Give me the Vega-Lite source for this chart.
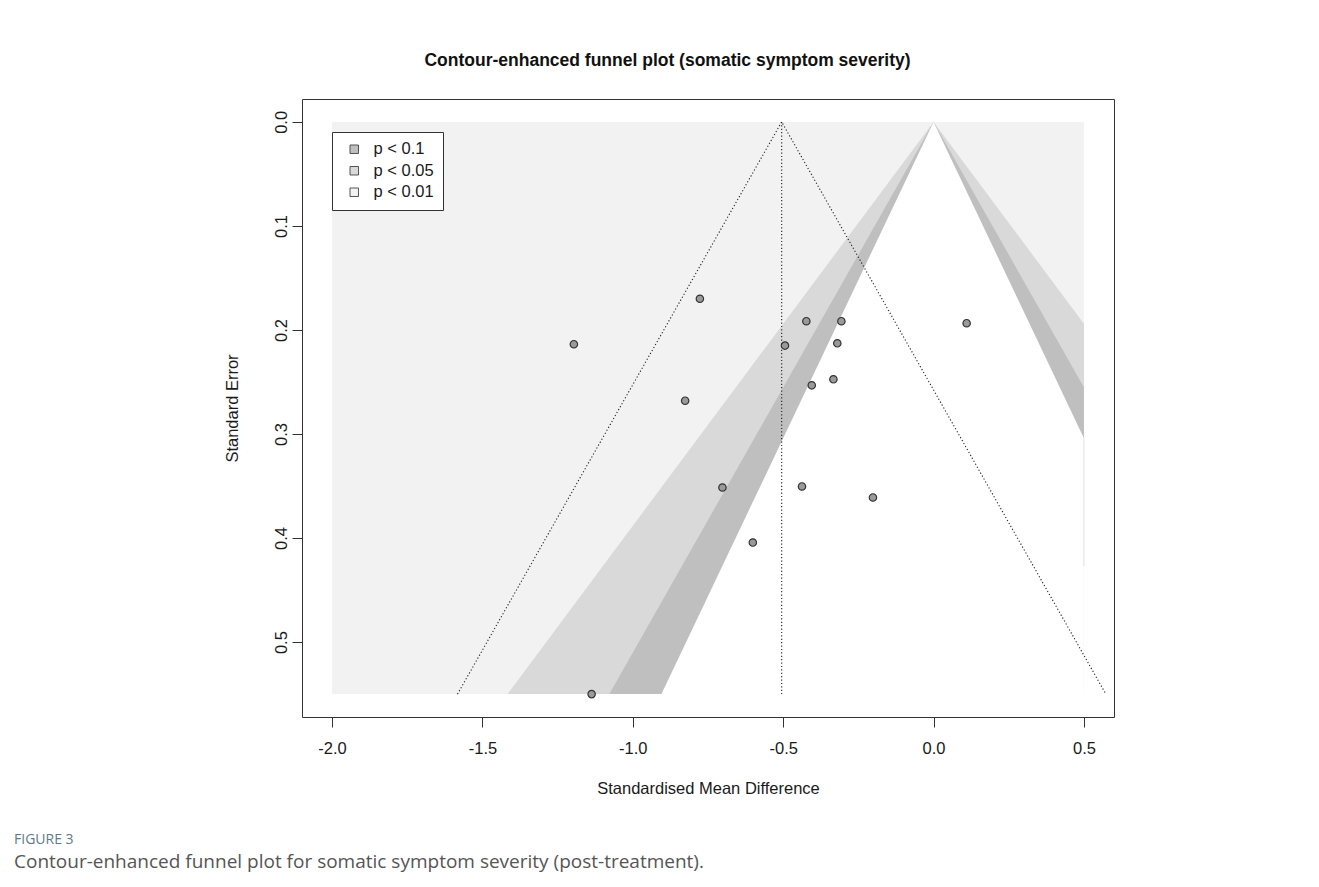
{
  "$schema": "https://vega.github.io/schema/vega-lite/v6.json",
  "width": 812,
  "height": 618,
  "autosize": {"type": "none"},
  "padding": {"left": 302, "top": 99, "right": 205, "bottom": 170},
  "background": "white",
  "config": {
    "view": {"stroke": "#333333", "strokeWidth": 1},
    "font": "Liberation Sans"
  },
  "title": {
    "text": "FIGURE 3",
    "subtitle": "Contour-enhanced funnel plot for somatic symptom severity (post-treatment).",
    "orient": "bottom",
    "anchor": "start",
    "frame": "group",
    "dx": -288,
    "offset": 36,
    "font": "Open Sans",
    "fontSize": 14,
    "fontWeight": "normal",
    "color": "#5d7a91",
    "subtitleFont": "Open Sans",
    "subtitleFontSize": 19,
    "subtitleColor": "#555555",
    "subtitlePadding": 6
  },
  "layer": [
    {
      "encoding": {
        "x": {
          "field": "x",
          "type": "quantitative",
          "scale": {"domain": [-2.1, 0.6], "nice": false, "zero": false},
          "axis": {
            "values": [-2, -1.5, -1, -0.5, 0, 0.5],
            "labelExpr": "datum.value < 0 ? '-' + format(-datum.value, '.1f') : format(datum.value, '.1f')",
            "domain": false,
            "grid": false,
            "tickSize": 10,
            "tickColor": "#333333",
            "tickWidth": 1,
            "labelFont": "Liberation Sans",
            "labelFontSize": 16.5,
            "labelColor": "#1a1a1a",
            "labelPadding": 13,
            "labelFlush": false,
            "labelOverlap": false,
            "title": "Standardised Mean Difference",
            "titleFont": "Liberation Sans",
            "titleFontSize": 16.5,
            "titleFontWeight": "normal",
            "titleColor": "#1a1a1a",
            "titlePadding": 24
          }
        },
        "y": {
          "field": "y",
          "type": "quantitative",
          "stack": null,
          "scale": {"domain": [-0.022, 0.572], "nice": false, "zero": false, "reverse": true},
          "axis": {
            "values": [0, 0.1, 0.2, 0.3, 0.4, 0.5],
            "format": ".1f",
            "domain": false,
            "grid": false,
            "tickSize": 10,
            "tickColor": "#333333",
            "tickWidth": 1,
            "labelAngle": -90,
            "labelFont": "Liberation Sans",
            "labelFontSize": 16.5,
            "labelColor": "#1a1a1a",
            "labelPadding": 3,
            "labelFlush": false,
            "labelOverlap": false,
            "title": "Standard Error",
            "titleFont": "Liberation Sans",
            "titleFontSize": 16.5,
            "titleFontWeight": "normal",
            "titleColor": "#1a1a1a",
            "titlePadding": 33
          }
        }
      },
      "layer": [
        {
          "data": {"values": [{"x": -2, "x2": 0.5, "y": 0, "y2": 0.55, "level": "p < 0.01"}]},
          "mark": {"type": "rect"},
          "encoding": {
            "x2": {"field": "x2"},
            "y2": {"field": "y2"},
            "color": {
              "field": "level", "type": "nominal",
              "scale": {"domain": ["p < 0.1", "p < 0.05", "p < 0.01"], "range": ["#bfbfbf", "#d9d9d9", "#f2f2f2"]},
              "legend": {
                "title": null, "orient": "none", "legendX": 30, "legendY": 33,
                "symbolType": "square", "symbolSize": 72, "symbolStrokeColor": "#444444", "symbolStrokeWidth": 0.9, "symbolOpacity": 1,
                "labelFont": "Liberation Sans", "labelFontSize": 16.5, "labelColor": "#1a1a1a",
                "strokeColor": "#333333", "fillColor": "white", "padding": 9, "rowPadding": 4.5,
                "symbolOffset": 5, "labelOffset": 11, "labelLimit": 200
              }
            }
          }
        },
        {
          "data": {"values": [
            {"x": -1.4168, "y": 0.55, "y2": 0.55, "level": "p < 0.05"},
            {"x": 0, "y": 0, "y2": 0.55, "level": "p < 0.05"},
            {"x": 0.5, "y": 0.1941, "y2": 0.55, "level": "p < 0.05"}
          ]},
          "mark": {"type": "area", "orient": "vertical"},
          "encoding": {
            "y2": {"field": "y2"},
            "color": {
              "field": "level", "type": "nominal",
              "scale": {"domain": ["p < 0.1", "p < 0.05", "p < 0.01"], "range": ["#bfbfbf", "#d9d9d9", "#f2f2f2"]},
              "legend": {
                "title": null, "orient": "none", "legendX": 30, "legendY": 33,
                "symbolType": "square", "symbolSize": 72, "symbolStrokeColor": "#444444", "symbolStrokeWidth": 0.9, "symbolOpacity": 1,
                "labelFont": "Liberation Sans", "labelFontSize": 16.5, "labelColor": "#1a1a1a",
                "strokeColor": "#333333", "fillColor": "white", "padding": 9, "rowPadding": 4.5,
                "symbolOffset": 5, "labelOffset": 11, "labelLimit": 200
              }
            }
          }
        },
        {
          "data": {"values": [
            {"x": -1.078, "y": 0.55, "y2": 0.55, "level": "p < 0.1"},
            {"x": 0, "y": 0, "y2": 0.55, "level": "p < 0.1"},
            {"x": 0.5, "y": 0.2551, "y2": 0.55, "level": "p < 0.1"}
          ]},
          "mark": {"type": "area", "orient": "vertical"},
          "encoding": {
            "y2": {"field": "y2"},
            "color": {
              "field": "level", "type": "nominal",
              "scale": {"domain": ["p < 0.1", "p < 0.05", "p < 0.01"], "range": ["#bfbfbf", "#d9d9d9", "#f2f2f2"]},
              "legend": {
                "title": null, "orient": "none", "legendX": 30, "legendY": 33,
                "symbolType": "square", "symbolSize": 72, "symbolStrokeColor": "#444444", "symbolStrokeWidth": 0.9, "symbolOpacity": 1,
                "labelFont": "Liberation Sans", "labelFontSize": 16.5, "labelColor": "#1a1a1a",
                "strokeColor": "#333333", "fillColor": "white", "padding": 9, "rowPadding": 4.5,
                "symbolOffset": 5, "labelOffset": 11, "labelLimit": 200
              }
            }
          }
        },
        {
          "data": {"values": [
            {"x": -0.9048, "y": 0.55, "y2": 0.55},
            {"x": 0, "y": 0, "y2": 0.55},
            {"x": 0.5, "y": 0.304, "y2": 0.55}
          ]},
          "mark": {"type": "area", "orient": "vertical", "color": "white"},
          "encoding": {
            "y2": {"field": "y2"}
          }
        },
        {
          "data": {"values": [{"x": 0.5, "y": 0.304, "y2": 0.427}]},
          "mark": {"type": "rule", "color": "#e2e2e2", "strokeWidth": 1},
          "encoding": {"y2": {"field": "y2"}}
        },
        {
          "data": {"values": [{"x": -0.505, "y": 0, "y2": 0.55}]},
          "mark": {"type": "rule", "color": "#222222", "strokeWidth": 1.1, "strokeDash": [1.2, 2.2]},
          "encoding": {"y2": {"field": "y2"}}
        },
        {
          "data": {"values": [
            {"x": -1.583, "y": 0.55},
            {"x": -0.505, "y": 0},
            {"x": 0.573, "y": 0.55}
          ]},
          "mark": {"type": "line", "color": "#222222", "strokeWidth": 1.1, "strokeDash": [1.2, 2.2]},
          "encoding": {}
        },
        {
          "data": {"values": [
            {"x": -0.777, "y": 0.170},
            {"x": -1.196, "y": 0.2137},
            {"x": -0.423, "y": 0.1916},
            {"x": -0.3065, "y": 0.1916},
            {"x": -0.494, "y": 0.215},
            {"x": -0.320, "y": 0.2128},
            {"x": 0.110, "y": 0.1935},
            {"x": -0.405, "y": 0.2532},
            {"x": -0.333, "y": 0.2474},
            {"x": -0.826, "y": 0.268},
            {"x": -0.702, "y": 0.3514},
            {"x": -0.4375, "y": 0.3504},
            {"x": -0.2015, "y": 0.361},
            {"x": -0.601, "y": 0.4043},
            {"x": -1.137, "y": 0.55}
          ]},
          "mark": {"type": "circle", "size": 55, "fill": "#9a9a9a", "stroke": "#333333", "strokeWidth": 1.2, "opacity": 1}
        }
      ]
    },
    {
      "data": {"values": [{"d": 0}]},
      "mark": {"type": "point", "opacity": 0},
      "encoding": {
        "x": {
          "field": "d",
          "type": "quantitative",
          "axis": {
            "orient": "top",
            "domain": false,
            "ticks": false,
            "labels": false,
            "grid": false,
            "title": "Contour-enhanced funnel plot (somatic symptom severity)",
            "titleFont": "Liberation Sans",
            "titleFontSize": 17.5,
            "titleFontWeight": "bold",
            "titleColor": "#111111",
            "titleX": 365,
            "titleAlign": "center",
            "titlePadding": 30
          }
        }
      }
    }
  ],
  "resolve": {"scale": {"x": "independent"}, "axis": {"x": "independent"}}
}
